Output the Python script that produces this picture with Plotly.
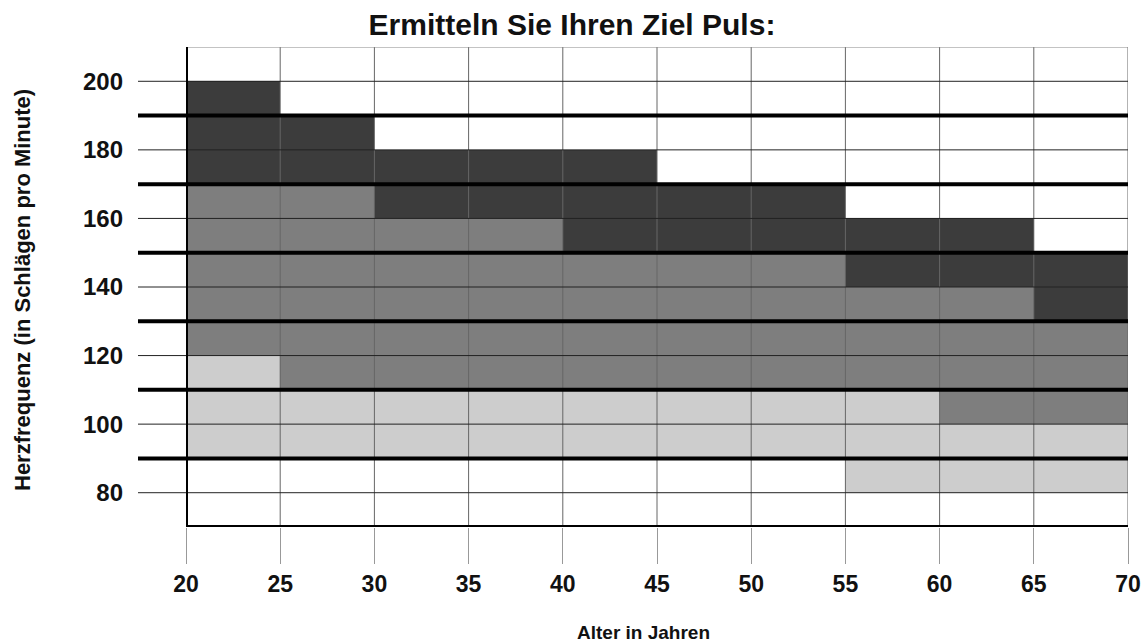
import plotly.graph_objects as go

# ---- data ----
age_start = [20, 25, 30, 35, 40, 45, 50, 55, 60, 65]      # column starts (years)
col_width = 5
light_low = [90, 90, 90, 90, 90, 90, 90, 80, 80, 80]
light_high = [120, 110, 110, 110, 110, 110, 110, 110, 100, 100]
medium_high = [170, 170, 160, 160, 150, 150, 150, 140, 140, 130]
dark_high = [200, 190, 180, 180, 180, 170, 170, 160, 160, 150]

x_ticks = [20, 25, 30, 35, 40, 45, 50, 55, 60, 65, 70]
y_ticks = [80, 100, 120, 140, 160, 180, 200]
y_thick = [90, 110, 130, 150, 170, 190]
y_min, y_max = 70, 210

title = "Ermitteln Sie Ihren Ziel Puls:"
x_title = "Alter in Jahren"
y_title = "Herzfrequenz (in Schlägen pro Minute)"

c_light = "#cdcdcd"
c_medium = "#7e7e7e"
c_dark = "#3c3c3c"

centers = [a + col_width / 2 for a in age_start]
widths = [col_width] * len(age_start)

fig = go.Figure()
zones = [
    (light_low, light_high, c_light),
    (light_high, medium_high, c_medium),
    (medium_high, dark_high, c_dark),
]
for lo, hi, col in zones:
    fig.add_trace(go.Bar(
        x=centers, base=lo, y=[h - l for l, h in zip(lo, hi)], width=widths,
        marker=dict(color=col, line=dict(width=0)),
        showlegend=False, hoverinfo="skip",
    ))

FONT = "Liberation Sans, Arial, sans-serif"

W, H = 1145, 643
ML, MR, MT, MB = 186, 17, 47, 116
PW, PH = W - ML - MR, H - MT - MB

ext = -48 / PW

shapes = []
# vertical thin grid lines on top of the bars
for xv in x_ticks[1:]:
    shapes.append(dict(type="line", xref="x", yref="y", x0=xv, x1=xv, y0=y_min, y1=y_max,
                       line=dict(color="#666666", width=1), layer="above"))
# thin horizontal lines
for yv in y_ticks:
    shapes.append(dict(type="line", xref="paper", yref="y", x0=ext, x1=1, y0=yv, y1=yv,
                       line=dict(color="#222222", width=1), layer="above"))
# top border
shapes.append(dict(type="line", xref="paper", yref="y", x0=0, x1=1, y0=y_max, y1=y_max,
                   line=dict(color="#888888", width=1), layer="above"))
# thick horizontal lines
for yv in y_thick:
    shapes.append(dict(type="line", xref="paper", yref="y", x0=ext, x1=1, y0=yv, y1=yv,
                       line=dict(color="black", width=4), layer="above"))
# bottom and left thick lines
shapes.append(dict(type="line", xref="x", yref="y", x0=x_ticks[0], x1=x_ticks[-1], y0=y_min, y1=y_min,
                   line=dict(color="black", width=4), layer="above"))
shapes.append(dict(type="line", xref="x", yref="y", x0=x_ticks[0], x1=x_ticks[0], y0=y_min, y1=y_max,
                   line=dict(color="black", width=4), layer="above"))

fig.update_layout(
    width=W, height=H,
    margin=dict(l=ML, r=MR, t=MT, b=MB, autoexpand=False),
    paper_bgcolor="white", plot_bgcolor="white",
    barmode="overlay", bargap=0,
    title=dict(text=title, x=572 / W, xanchor="center", xref="container",
               y=1 - 24 / H, yref="container", yanchor="middle",
               font=dict(family=FONT, size=30, color="#111111", weight="bold")),
    xaxis=dict(range=[x_ticks[0], x_ticks[-1]], tickvals=x_ticks, ticktext=[str(v) for v in x_ticks],
               ticks="outside", ticklen=36, tickcolor="#999999", tickwidth=1,
               showgrid=False, zeroline=False, showline=False, automargin=False,
               tickfont=dict(family=FONT, size=23, color="#111111", weight="bold")),
    yaxis=dict(range=[y_min, y_max], tickvals=y_ticks, ticktext=[str(v) for v in y_ticks],
               ticks="", ticklabelstandoff=62,
               showgrid=False, zeroline=False, showline=False, automargin=False,
               tickfont=dict(family=FONT, size=24, color="#111111", weight="bold")),
    shapes=shapes,
    annotations=[
        dict(text=x_title, xref="paper", yref="paper", x=(643 - ML) / PW, y=-(632 - 527) / PH,
             xanchor="center", yanchor="middle", showarrow=False,
             font=dict(family=FONT, size=19, color="#111111", weight="bold")),
        dict(text=y_title, xref="paper", yref="paper", x=(22 - ML) / PW, y=(527 - 290) / PH,
             xanchor="center", yanchor="middle", showarrow=False, textangle=-90,
             font=dict(family=FONT, size=22, color="#111111", weight="bold")),
    ],
)

fig.write_html(
    "out.html",
    config={"displayModeBar": False},
    post_script="document.body.style.margin='0px';document.body.style.overflow='hidden';",
)
